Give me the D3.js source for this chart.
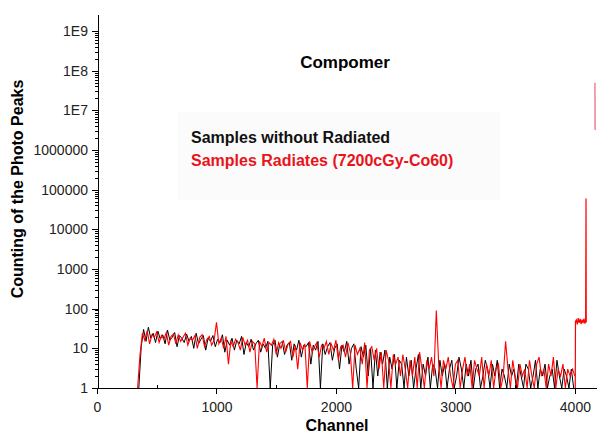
<!DOCTYPE html>
<html>
<head>
<meta charset="utf-8">
<script src="https://cdn.jsdelivr.net/npm/d3@7"></script>
<style>
  html, body { margin: 0; padding: 0; background: #fff; }
  svg { display: block; font-family: "Liberation Sans", Arial, sans-serif; }
  .axis path, .axis line { stroke: #000; shape-rendering: crispEdges; }
  .axis path { stroke-width: 1.6px; }
  .axis text { font-size: 14px; fill: #222; font-family: "Liberation Sans", Arial, sans-serif; }
</style>
</head>
<body>
<svg width="597" height="435"></svg>
<script>
'use strict';

/* Spectrum without radiation: one count every 20 channels from 350. */
var blackStart = 350;
var blackStep = 20;
var blackCounts = [
  1, 11, 30, 15, 34, 18, 24, 14, 27, 17,
  22, 13, 29, 16, 19, 25, 11, 21, 18, 14,
  23, 15, 20, 10, 24, 13, 17, 21, 9, 18,
  15, 21, 11, 17, 14, 22, 8, 16, 12, 18,
  9, 16, 13, 20, 7, 14, 11, 17, 9, 13,
  16, 8, 13, 10, 15, 1, 12, 16, 6, 13,
  15, 7, 12, 14, 5, 13, 9, 16, 6, 12,
  11, 14, 4, 12, 9, 15, 1, 13, 7, 11,
  14, 5, 10, 13, 3, 12, 8, 15, 4, 10,
  13, 3, 1, 11, 6, 12, 2, 10, 1, 9,
  2, 8, 4, 9, 1, 6, 3, 7, 1, 5,
  4, 1, 6, 2, 5, 1, 3, 7, 1, 4,
  2, 6, 1, 4, 3, 1, 5, 2, 4, 1,
  3, 5, 1, 2, 6, 3, 1, 4, 2, 5,
  1, 3, 4, 1, 2, 5, 3, 1, 4, 2,
  5, 1, 3, 2, 1, 4, 2, 3, 1, 4,
  2, 1, 4, 3, 1, 2, 5, 1, 3, 2,
  4, 1, 2, 3, 1, 5, 2, 1, 3, 2,
  1, 3, 1
];

/* Spectrum after 7200cGy Co60: one count every 20 channels from 340. */
var redStart = 340;
var redStep = 20;
var redCounts = [
  1, 7, 24, 16, 28, 13, 22, 19, 26, 14,
  21, 17, 25, 12, 20, 23, 13, 22, 15, 19,
  24, 12, 18, 16, 21, 10, 19, 22, 11, 17,
  20, 12, 16, 45, 13, 18, 10, 20, 4, 15,
  11, 17, 14, 9, 19, 12, 16, 8, 15, 13,
  1, 15, 11, 18, 8, 14, 12, 17, 7, 14,
  10, 16, 8, 13, 15, 6, 12, 3, 14, 9,
  13, 1, 15, 8, 11, 14, 6, 12, 10, 15,
  7, 13, 9, 16, 5, 11, 12, 6, 14, 8,
  1, 12, 7, 10, 4, 14, 1, 9, 11, 5,
  10, 3, 8, 1, 9, 5, 1, 7, 4, 6,
  2, 7, 3, 1, 5, 2, 6, 1, 8, 3,
  1, 5, 3, 6, 2, 90, 4, 1, 5, 3,
  6, 2, 1, 4, 5, 1, 3, 6, 2, 4,
  1, 5, 3, 2, 6, 1, 4, 2, 5, 1,
  3, 4, 1, 2, 15, 3, 1, 5, 2, 1,
  4, 2, 3, 1, 5, 2, 1, 4, 6, 2,
  3, 1, 4, 2, 6, 1, 3, 2, 4, 1,
  3, 2, 3, 2
];

/* High-channel region of the radiated sample. */
var redTailChannels = [4003, 4005, 4012, 4020, 4028, 4036, 4044, 4052, 4060, 4068, 4076, 4084, 4090, 4093, 4095];
var redTailCounts = [1, 48, 52, 40, 58, 44, 55, 41, 53, 43, 56, 42, 50, 60000, 45];

/* Photo peak at the right edge. */
var peakChannels = [4168, 4169];
var peakCounts = [50000000, 3200000];

/* Axis ticks. */
var xTicks = [0, 1000, 2000, 3000, 4000];
var xMinorTicks = [500, 1500, 2500, 3500];
var yTicks = [1, 10, 100, 1000, 10000, 100000, 1000000, 1e7, 1e8, 1e9];
var yTickLabels = ['1', '10', '100', '1000', '10000', '100000', '1000000', '1E7', '1E8', '1E9'];

var legendLabels = ['Samples without Radiated', 'Samples Radiates (7200cGy-Co60)'];
var legendColors = ['#111', '#e8141c'];

var svg = d3.select('svg');

/* Scales. */
var x = d3.scaleLinear().domain([0, 4185]).range([97, 597]);
var y = d3.scaleLog().domain([1, Math.pow(10, 9.43)]).range([388, 14]).clamp(true);

/* Build point lists from the count arrays. */
function series(start, step, counts) {
  return counts.map(function (c, i) {
    return {channel: start + i * step, count: c};
  });
}

function pairs(channels, counts) {
  return channels.map(function (ch, i) {
    return {channel: ch, count: counts[i]};
  });
}

var line = d3.line()
  .x(function (d) { return x(d.channel); })
  .y(function (d) { return y(d.count); });

/* Legend background. */
svg.append('rect')
  .attr('x', 178).attr('y', 112)
  .attr('width', 322).attr('height', 88)
  .attr('fill', '#fbfbfb');

/* Data lines: black under red. */
svg.append('path')
  .datum(series(blackStart, blackStep, blackCounts))
  .attr('d', line)
  .attr('fill', 'none')
  .attr('stroke', '#000')
  .attr('stroke-width', 1);

svg.append('path')
  .datum(series(redStart, redStep, redCounts))
  .attr('d', line)
  .attr('fill', 'none')
  .attr('stroke', '#ff0000')
  .attr('stroke-width', 1.1);

svg.append('path')
  .datum(pairs(redTailChannels, redTailCounts))
  .attr('d', line)
  .attr('fill', 'none')
  .attr('stroke', '#ff0000')
  .attr('stroke-width', 1.2);

svg.append('path')
  .datum(pairs(peakChannels, peakCounts))
  .attr('d', line)
  .attr('fill', 'none')
  .attr('stroke', '#e04050')
  .attr('stroke-opacity', 0.8)
  .attr('stroke-width', 1.2);

/* X axis. */
svg.append('g')
  .attr('class', 'axis')
  .attr('transform', 'translate(0,388)')
  .call(d3.axisBottom(x).tickValues(xMinorTicks).tickSize(-3).tickSizeOuter(0).tickFormat(''));

svg.append('g')
  .attr('class', 'axis')
  .attr('transform', 'translate(0,388)')
  .call(d3.axisBottom(x).tickValues(xTicks).tickSize(6).tickSizeOuter(0).tickPadding(8)
    .tickFormat(d3.format('d')));

/* Y axis: minor ticks, then labelled decades. */
var yMinor = [];
yTicks.slice(0, -1).forEach(function (t) {
  [2, 3, 4, 5, 6, 7, 8, 9].forEach(function (m) { yMinor.push(t * m); });
});

svg.append('g')
  .attr('class', 'axis')
  .attr('transform', 'translate(98,0)')
  .call(d3.axisLeft(y).tickValues(yMinor).tickSize(3).tickSizeOuter(0).tickFormat(''));

svg.append('g')
  .attr('class', 'axis')
  .attr('transform', 'translate(98,0)')
  .call(d3.axisLeft(y).tickValues(yTicks).tickSize(6).tickSizeOuter(0).tickPadding(4)
    .tickFormat(function (d, i) { return yTickLabels[i]; }));

/* Titles. */
svg.append('text')
  .attr('x', 345).attr('y', 68)
  .attr('text-anchor', 'middle')
  .attr('font-weight', 'bold')
  .attr('font-size', 17)
  .text('Compomer');

svg.append('text')
  .attr('x', 337).attr('y', 431)
  .attr('text-anchor', 'middle')
  .attr('font-weight', 'bold')
  .attr('font-size', 16)
  .text('Channel');

svg.append('text')
  .attr('transform', 'translate(23,189) rotate(-90)')
  .attr('text-anchor', 'middle')
  .attr('font-weight', 'bold')
  .attr('font-size', 16)
  .text('Counting of the Photo Peaks');

/* Legend. */
svg.selectAll('.legend')
  .data(legendLabels)
  .enter()
  .append('text')
  .attr('class', 'legend')
  .attr('x', 191)
  .attr('y', function (d, i) { return 143 + i * 23; })
  .attr('font-weight', 'bold')
  .attr('font-size', 16)
  .attr('fill', function (d, i) { return legendColors[i]; })
  .text(function (d) { return d; });
</script>
</body>
</html>
